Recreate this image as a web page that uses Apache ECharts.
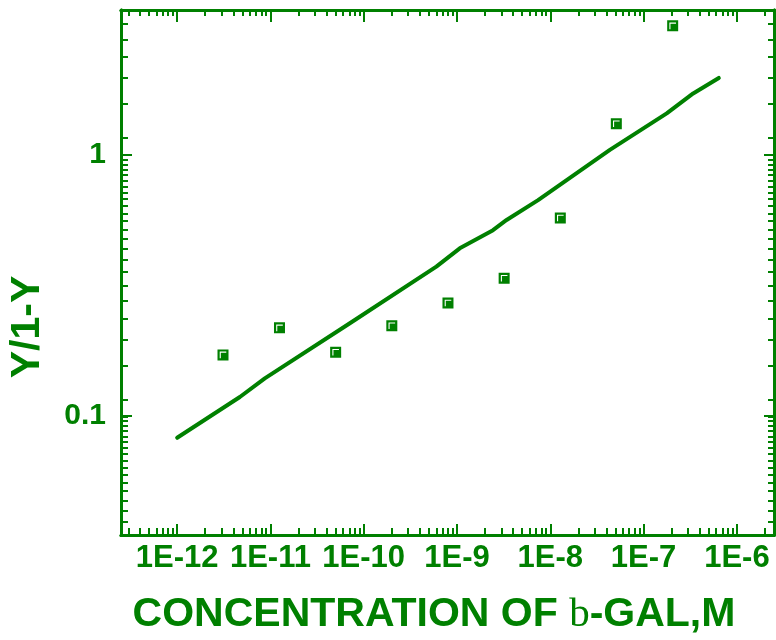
<!DOCTYPE html>
<html>
<head>
<meta charset="utf-8">
<script src="https://cdn.jsdelivr.net/npm/echarts@6/dist/echarts.min.js"></script>
<style>
  html, body { margin: 0; padding: 0; background: #ffffff; }
  #chart { width: 776px; height: 640px; }
</style>
</head>
<body>
<div id="chart"></div>
<script>
// Measured binding ratio Y/(1-Y) against beta-galactosidase concentration (M)
const concentration = [3.1e-12, 1.25e-11, 5.0e-11, 2.0e-10, 8.0e-10, 3.2e-9, 1.28e-8, 5.1e-8, 2.05e-7];
const ratio = [0.171, 0.217, 0.175, 0.221, 0.270, 0.336, 0.571, 1.31, 3.10];

// Fitted curve
const fitConcentration = [1.0e-12, 4.7e-12, 8.7e-12, 7.1e-11, 6.0e-10, 1.07e-9, 2.43e-9, 3.4e-9, 7.4e-9, 4.35e-8, 1.77e-7, 3.4e-7, 6.4e-7];
const fitRatio = [0.0824, 0.118, 0.139, 0.226, 0.372, 0.437, 0.513, 0.561, 0.668, 1.04, 1.435, 1.71, 1.96];

// Axis ranges and labelled ticks
const xRange = [2.5e-13, 2.5e-6];
const yRange = [0.035, 3.565];
const xMajor = [1e-12, 1e-11, 1e-10, 1e-9, 1e-8, 1e-7, 1e-6];
const xTickLabels = ['1E-12', '1E-11', '1E-10', '1E-9', '1E-8', '1E-7', '1E-6'];
const yMajor = [0.1, 1];
const yTickLabels = ['0.1', '1'];

// Minor tick positions
function logMinor(lo, hi) {
  const out = [];
  for (let d = Math.floor(Math.log10(lo)); d <= Math.ceil(Math.log10(hi)); d++) {
    for (let k = 2; k <= 9; k++) {
      const v = Number((k * Math.pow(10, d)).toPrecision(6));
      if (v >= lo && v <= hi) out.push(v);
    }
  }
  return out;
}
function stepTicks(start, step, end) {
  const out = [];
  for (let v = start; v < end; v += step) out.push(Number(v.toPrecision(6)));
  return out;
}
const xMinor = logMinor(xRange[0], xRange[1]);
const yMinor = [].concat(
  stepTicks(0.0395, 0.004, 0.0999),
  stepTicks(0.115, 0.04, 0.999),
  stepTicks(1.155, 0.4, 3.5)
);

const GREEN = '#008000';
const FONT = '"Liberation Sans", Arial, Helvetica, sans-serif';

function labelFor(values, labels) {
  return function (v) {
    for (let i = 0; i < values.length; i++) {
      if (Math.abs(Math.log10(values[i] / v)) < 1e-6) return labels[i];
    }
    return '';
  };
}

function xAxisDef(position, ticks, len, withLabels) {
  return {
    type: 'log', position: position, min: xRange[0], max: xRange[1],
    axisLine: { show: true, lineStyle: { color: GREEN, width: 3 } },
    axisTick: { show: true, inside: true, length: len, customValues: ticks,
                lineStyle: { color: GREEN, width: 2 } },
    axisLabel: withLabels ? {
      show: true, customValues: xMajor, formatter: labelFor(xMajor, xTickLabels),
      color: GREEN, fontFamily: FONT, fontWeight: 'bold', fontSize: 31, margin: 8
    } : { show: false },
    minorTick: { show: false }, splitLine: { show: false }
  };
}
function yAxisDef(position, ticks, len, withLabels) {
  return {
    type: 'log', position: position, min: yRange[0], max: yRange[1],
    axisLine: { show: true, lineStyle: { color: GREEN, width: 3 } },
    axisTick: { show: true, inside: true, length: len, customValues: ticks,
                lineStyle: { color: GREEN, width: 2 } },
    axisLabel: withLabels ? {
      show: true, customValues: yMajor, formatter: labelFor(yMajor, yTickLabels),
      color: GREEN, fontFamily: FONT, fontWeight: 'bold', fontSize: 30, margin: 15,
      verticalAlign: 'middle', lineHeight: 30, padding: [0, 0, 8, 0]
    } : { show: false },
    minorTick: { show: false }, splitLine: { show: false }
  };
}

// Square marker with a light bevel line along its upper-left edge
const markerPath = 'path://M0 0H10V10H0Z M2 2V8H3V3H8V2Z';

const chart = echarts.init(document.getElementById('chart'), null, { renderer: 'canvas' });
chart.setOption({
  animation: false,
  backgroundColor: '#ffffff',
  grid: { left: 121, right: 2, top: 10, bottom: 105, containLabel: false },
  xAxis: [
    xAxisDef('bottom', xMajor, 11, true),
    xAxisDef('bottom', xMinor, 7, false),
    xAxisDef('top', xMajor, 12, false),
    xAxisDef('top', xMinor, 6, false)
  ],
  yAxis: [
    yAxisDef('left', yMajor, 11, true),
    yAxisDef('left', yMinor, 7, false),
    yAxisDef('right', yMajor, 10, false),
    yAxisDef('right', yMinor, 6, false)
  ],
  series: [
    {
      type: 'line', xAxisIndex: 0, yAxisIndex: 0,
      data: fitConcentration.map((x, i) => [x, fitRatio[i]]),
      showSymbol: false, symbol: 'none', smooth: false,
      lineStyle: { color: GREEN, width: 4, cap: 'round', join: 'round' },
      z: 3
    },
    {
      type: 'scatter', xAxisIndex: 0, yAxisIndex: 0,
      data: concentration.map((x, i) => [x, ratio[i]]),
      symbol: markerPath, symbolSize: 11,
      itemStyle: { color: GREEN, opacity: 1 },
      z: 4
    }
  ],
  graphic: [
    {
      type: 'text', x: 434, y: 615,
      style: {
        text: '{a|CONCENTRATION OF }{b|b}{a|-GAL,M}',
        align: 'center', verticalAlign: 'middle',
        rich: {
          a: { fontFamily: FONT, fontWeight: 'bold', fontSize: 41, fill: GREEN, color: GREEN },
          b: { fontFamily: '"Liberation Serif", "Times New Roman", serif', fontWeight: 'normal', fontSize: 41, fill: GREEN, color: GREEN }
        }
      }
    },
    {
      type: 'text', x: 28, y: 327, rotation: Math.PI / 2,
      style: {
        text: 'Y/1-Y', align: 'center', verticalAlign: 'middle',
        fontFamily: FONT, fontWeight: 'bold', fontSize: 41, fill: GREEN
      }
    }
  ]
});
</script>
</body>
</html>
